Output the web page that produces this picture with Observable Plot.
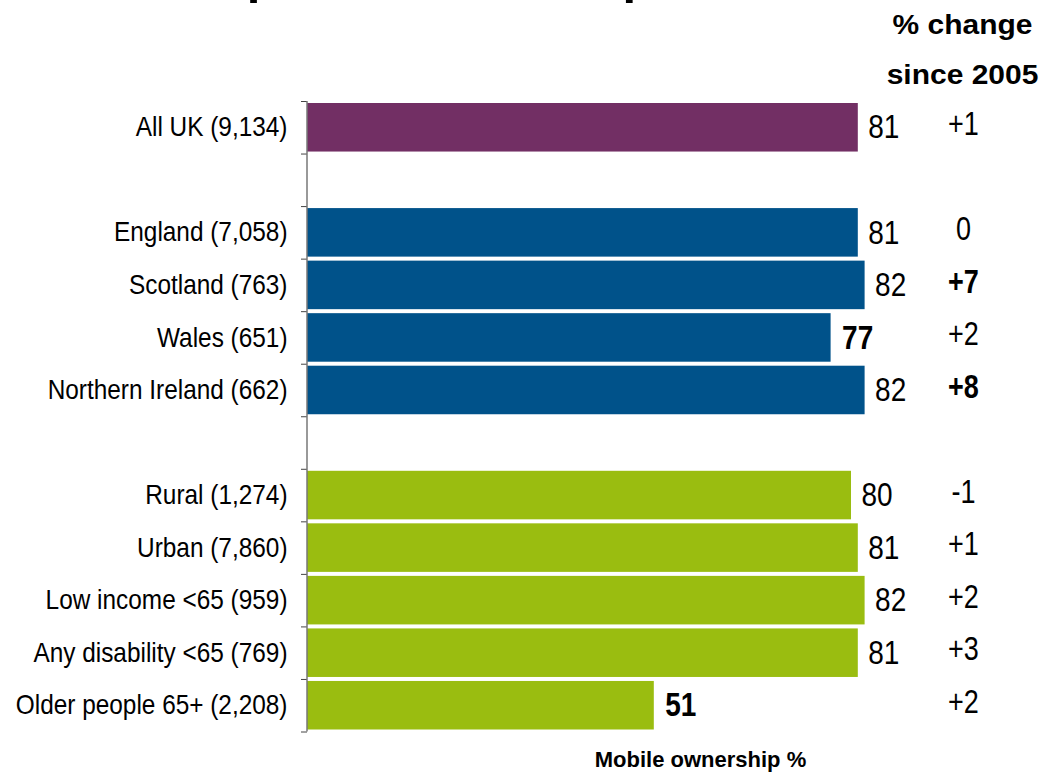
<!DOCTYPE html>
<html>
<head>
<meta charset="utf-8">
<script src="https://cdn.jsdelivr.net/npm/d3@7"></script>
<script src="https://cdn.jsdelivr.net/npm/@observablehq/plot@0.6"></script>
<style>
  html, body { margin: 0; padding: 0; background: #fff; }
  body { position: relative; width: 1048px; height: 772px; overflow: hidden; font-family: "Liberation Sans", Arial, sans-serif; }
  #title { position: absolute; left: 78px; top: -48px; font-size: 49px; line-height: 1; font-weight: bold; color: #000; white-space: nowrap; }
  #chart { position: absolute; left: 0; top: 0; }
</style>
</head>
<body>
<div id="title">Mobile phone ownership</div>
<div id="chart"></div>
<script>
// ---- data ----
const rows = ["All UK (9,134)", "", "England (7,058)", "Scotland (763)", "Wales (651)", "Northern Ireland (662)", "", "Rural (1,274)", "Urban (7,860)", "Low income <65 (959)", "Any disability <65 (769)", "Older people 65+ (2,208)"];
const groups = ["All UK", null, "Nation", "Nation", "Nation", "Nation", null, "Group", "Group", "Group", "Group", "Group"];
const ownership = [81, null, 81, 82, 77, 82, null, 80, 81, 82, 81, 51];
const ownershipSignificant = [false, false, false, false, true, false, false, false, false, false, false, true];
const changeSince2005 = ["+1", null, "0", "+7", "+2", "+8", null, "-1", "+1", "+2", "+3", "+2"];
const changeSignificant = [false, false, false, true, false, true, false, false, false, false, false, false];
const groupNames = ["All UK", "Nation", "Group"];
const groupColors = ["#722F64", "#00528A", "#9ABD10"];
const headerText = "% change\nsince 2005";
const axisTitle = "Mobile ownership %";

const data = rows.map((label, i) => ({
  label, row: i, group: groups[i], value: ownership[i],
  valueBold: ownershipSignificant[i], change: changeSince2005[i], changeBold: changeSignificant[i]
})).filter(d => d.label);

const font = "Liberation Sans, Arial, sans-serif";
const mid = d => d.row + 0.5;

const chart = Plot.plot({
  width: 1048,
  height: 772,
  marginLeft: 307,
  marginRight: 61,
  marginTop: 101,
  marginBottom: 40.5,
  style: {fontFamily: font, color: "#444", background: "transparent"},
  x: {domain: [0, 100], axis: null},
  y: {domain: [0, rows.length], reverse: true, ticks: d3.range(rows.length + 1), tickSize: 6, tickFormat: () => "", label: null},
  color: {domain: groupNames, range: groupColors},
  marks: [
    Plot.rect(data, {x1: 0, x2: "value", y1: "row", y2: d => d.row + 1, fill: "group", insetTop: 2, insetBottom: 2}),
    Plot.ruleX([0], {stroke: "#777", strokeWidth: 1.5, dx: -0.5}),
    Plot.text(data, {y: mid, text: "label", frameAnchor: "left", dx: -20, textAnchor: "end", fontSize: 24.4, fill: "#000"}),
    Plot.text(data.filter(d => !d.valueBold), {x: "value", y: mid, text: d => String(d.value), dx: 10, textAnchor: "start", fontSize: 28, fill: "#000"}),
    Plot.text(data.filter(d => d.valueBold), {x: "value", y: mid, text: d => String(d.value), dx: 11, textAnchor: "start", fontSize: 28, fontWeight: "bold", fill: "#000"}),
    Plot.text(data.filter(d => !d.changeBold), {y: mid, text: "change", frameAnchor: "right", dx: -24, dy: -3, textAnchor: "middle", fontSize: 27, fill: "#000"}),
    Plot.text(data.filter(d => d.changeBold), {y: mid, text: "change", frameAnchor: "right", dx: -24, dy: -3, textAnchor: "middle", fontSize: 27, fontWeight: "bold", fill: "#000"}),
    Plot.text([headerText], {text: d => d, frameAnchor: "top-right", dx: -25, dy: -18, lineAnchor: "bottom", lineHeight: 1.85, textAnchor: "middle", fontSize: 27, fontWeight: "bold", fill: "#000"}),
    Plot.text([axisTitle], {text: d => d, frameAnchor: "bottom", dx: 53, dy: 35, textAnchor: "middle", fontSize: 22, fontWeight: "bold", fill: "#000"})
  ]
});

// stretch text glyphs about their own anchor point, picking the texts by their content
const categorySet = new Set(rows.filter(Boolean));
const valueSet = new Set(ownership.filter(v => v != null).map(String));
const changeSet = new Set(changeSince2005.filter(Boolean));
chart.querySelectorAll("text").forEach(t => {
  const s = t.textContent;
  let sx = 1, sy = 1;
  if (categorySet.has(s)) sy = 1.1;
  else if (valueSet.has(s)) sy = 1.2;
  else if (changeSet.has(s)) sy = 1.2;
  else if (s === headerText.replace("\n", "")) sx = 1.11;
  else return;
  const tr = t.getAttribute("transform") || "";
  const x = parseFloat(t.getAttribute("x")) || 0;
  const y = parseFloat(t.getAttribute("y")) || 0;
  t.setAttribute("transform", `${tr} translate(${x},${y}) scale(${sx},${sy}) translate(${-x},${-y})`);
});

document.getElementById("chart").appendChild(chart);
</script>
</body>
</html>
